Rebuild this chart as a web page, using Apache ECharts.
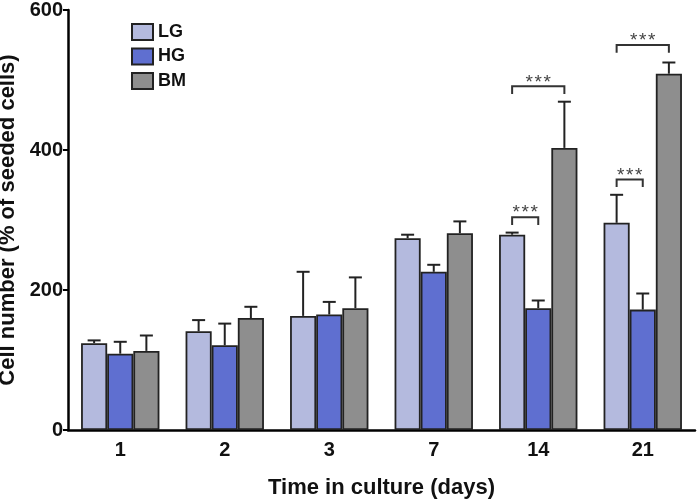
<!DOCTYPE html>
<html>
<head>
<meta charset="utf-8">
<script src="https://cdn.jsdelivr.net/npm/echarts@6/dist/echarts.min.js"></script>
<style>html,body{margin:0;padding:0;background:#fff}#c{width:700px;height:501px}</style>
</head>
<body>
<div id="c"></div>
<script>
const categories = ['1', '2', '3', '7', '14', '21'];
const seriesNames = ['LG', 'HG', 'BM'];
const lgValues = [124, 141, 163, 274, 279, 296];
const hgValues = [109, 121, 165, 226, 174, 172];
const bmValues = [113, 160, 174, 281, 403, 509];
const lgErrTop = [128, 157, 226, 279, 282, 336];
const hgErrTop = [126, 152, 183, 236, 185, 195];
const bmErrTop = [135, 176, 218, 298, 469, 525];
const yTicks = [0, 200, 400, 600];
// brackets: [categoryIndex, fromSeriesIndex, toSeriesIndex, barLevel, tickBottomLevel, label]
const brackets = [
  [4, 0, 1, 304, 293, '***'],
  [4, 0, 2, 491, 480, '***'],
  [5, 0, 1, 358, 347, '***'],
  [5, 0, 2, 550, 539, '***']
];

const colors = ['#b4bade', '#5f6fd0', '#8e8e8e'];
const values = [lgValues, hgValues, bmValues];
const errs = [lgErrTop, hgErrTop, bmErrTop];
const GAP = 0.25;
const font = 'Liberation Sans, Arial, Helvetica, sans-serif';

function barOffset(api, i) {
  const bw = api.size([1, 0])[0];
  const w = bw * (1 - GAP) / 3;
  return (i - 1) * w;
}

const series = [];
seriesNames.forEach((name, i) => {
  series.push({
    name: name,
    type: 'bar',
    data: values[i],
    barGap: '0%',
    barCategoryGap: (GAP * 100) + '%',
    itemStyle: { color: colors[i], borderColor: '#222', borderWidth: 1.8 },
    z: 3
  });
});
seriesNames.forEach((name, i) => {
  series.push({
    type: 'custom',
    data: categories.map((c, k) => [k, values[i][k], errs[i][k]]),
    z: 2,
    silent: true,
    renderItem: function (params, api) {
      const base = api.coord([api.value(0), api.value(1)]);
      const top = api.coord([api.value(0), api.value(2)]);
      const x = base[0] + barOffset(api, i);
      const style = { stroke: '#222', lineWidth: 2 };
      return {
        type: 'group',
        children: [
          { type: 'line', shape: { x1: x, y1: base[1], x2: x, y2: top[1] }, style: style },
          { type: 'line', shape: { x1: x - 6.5, y1: top[1], x2: x + 6.5, y2: top[1] }, style: style }
        ]
      };
    }
  });
});
series.push({
  type: 'custom',
  data: brackets,
  z: 4,
  silent: true,
  renderItem: function (params, api) {
    const cat = api.value(0);
    const a = api.value(1), b = api.value(2);
    const lvl = api.coord([cat, api.value(3)]);
    const bot = api.coord([cat, api.value(4)]);
    const x1 = lvl[0] + barOffset(api, a);
    const x2 = lvl[0] + barOffset(api, b);
    const y = lvl[1], yb = bot[1];
    const style = { stroke: '#333', lineWidth: 2, fill: null };
    const label = brackets[params.dataIndex][5];
    const n = label.length;
    const children = [
      { type: 'polyline', shape: { points: [[x1, yb], [x1, y], [x2, y], [x2, yb]] }, style: style }
    ];
    for (let k = 0; k < n; k++) {
      children.push({
        type: 'text',
        style: {
          text: label[k], x: (x1 + x2) / 2 + (k - (n - 1) / 2) * 9, y: y - 4,
          align: 'center', verticalAlign: 'middle', fill: '#444', font: '19px ' + font
        }
      });
    }
    return { type: 'group', children: children };
  }
});

const chart = echarts.init(document.getElementById('c'));
chart.setOption({
  animation: false,
  grid: { left: 68, right: 5, top: 10, bottom: 71, containLabel: false, outerBoundsMode: 'none' },
  legend: {
    data: seriesNames,
    orient: 'vertical',
    left: 126,
    top: 18,
    icon: 'rect',
    itemWidth: 21,
    itemHeight: 16,
    itemGap: 6.5,
    textStyle: { fontFamily: font, fontWeight: 'bold', fontSize: 18, color: '#111' }
  },
  xAxis: {
    type: 'category',
    data: categories,
    name: 'Time in culture (days)',
    nameLocation: 'middle',
    nameGap: 47,
    nameTextStyle: { fontFamily: font, fontWeight: 'bold', fontSize: 22, color: '#111' },
    axisLine: { lineStyle: { color: '#000', width: 2.5 } },
    axisTick: { show: false },
    axisLabel: { fontFamily: font, fontWeight: 'bold', fontSize: 20, color: '#111', margin: 10 }
  },
  yAxis: {
    type: 'value',
    min: 0,
    max: 600,
    interval: 200,
    name: 'Cell number (% of seeded cells)',
    nameLocation: 'middle',
    nameGap: 43,
    nameTextStyle: { fontFamily: font, fontWeight: 'bold', fontSize: 22, color: '#111' },
    axisLine: { show: true, lineStyle: { color: '#000', width: 2.5 } },
    axisTick: { show: true, length: 5, lineStyle: { color: '#000', width: 2 } },
    splitLine: { show: false },
    axisLabel: {
      fontFamily: font, fontWeight: 'bold', fontSize: 20, color: '#111', margin: 5,
      formatter: v => yTicks.indexOf(v) >= 0 ? String(v) : ''
    }
  },
  series: series
});
</script>
</body>
</html>
